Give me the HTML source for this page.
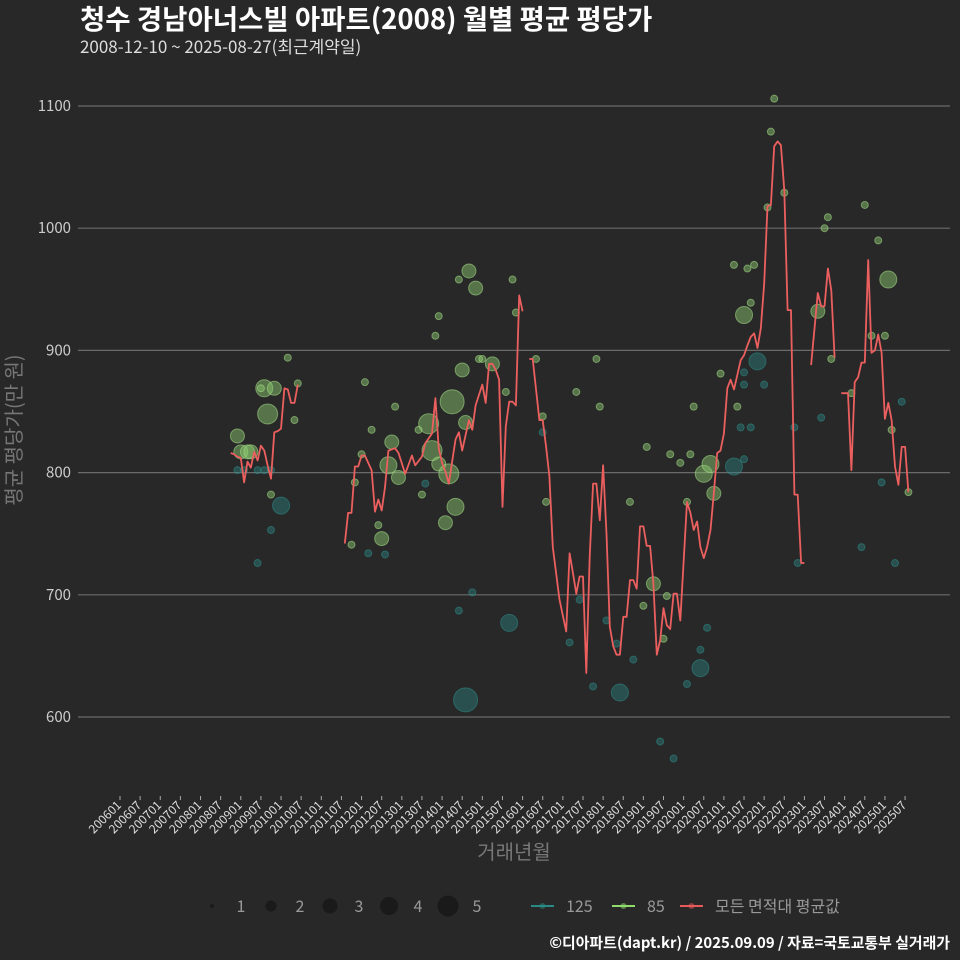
<!DOCTYPE html>
<html><head><meta charset="utf-8">
<style>
html,body{margin:0;padding:0;background:#282828;}
svg{display:block;font-family:"Noto Sans CJK KR","Liberation Sans",sans-serif;}
</style></head>
<body>
<svg id="chart" width="960" height="960" viewBox="0 0 960 960">
<rect x="0" y="0" width="960" height="960" fill="#282828"/>
<text x="80" y="29" fill="#ffffff" font-size="27.5" font-weight="bold">청수 경남아너스빌 아파트(2008) 월별 평균 평당가</text>
<text x="80" y="53" fill="#dddddd" font-size="17">2008-12-10 ~ 2025-08-27(최근계약일)</text>
<g id="grid"></g>
<g id="yticks"></g>
<g id="xticks"></g>
<g id="bubbles125"></g>
<g id="bubbles85"></g>
<g id="avgline"></g>
<text x="0" y="0" transform="translate(21,430) rotate(-90)" text-anchor="middle" fill="#777777" font-size="20">평균 평당가(만 원)</text>
<text x="514" y="859" text-anchor="middle" fill="#777777" font-size="20">거래년월</text>
<g id="legend"></g>
<text x="950" y="948" text-anchor="end" fill="#ffffff" font-size="14.9" font-weight="bold">©디아파트(dapt.kr) / 2025.09.09 / 자료=국토교통부 실거래가</text>
</svg>
<script>
// months are indices since 2006-01 (0 = 200601)
const yTicks = [600, 700, 800, 900, 1000, 1100];
const xTickLabels = ["200601","200607","200701","200707","200801","200807","200901","200907","201001","201007","201101","201107","201201","201207","201301","201307","201401","201407","201501","201507","201601","201607","201701","201707","201801","201807","201901","201907","202001","202007","202101","202107","202201","202207","202301","202307","202401","202407","202501","202507"];
const lineMonths = [33,34,35,36,37,38,39,40,41,42,43,44,45,46,47,48,49,50,51,52,53,null,
67,68,69,70,71,72,73,75,76,77,78,79,80,82,83,85,87,88,90,91,93,94,95,96,97,98,100,101,102,104,105,106,108,109,110,111,112,113,114,115,116,117,118,119,120,null,
122,123,125,126,127,128,129,131,133,134,135,136,137,138,139,140,141,142,143,144,145,146,147,148,149,150,151,152,153,154,155,156,157,158,159,160,161,162,163,164,165,166,167,169,170,171,172,173,174,175,176,177,178,179,180,181,182,183,185,186,187,188,189,190,191,192,193,194,195,196,197,198,199,200,201,202,203,204,null,
206,208,209,210,211,212,213,null,
215,217,218,219,220,221,222,223,224,225,226,227,228,229,230,231,232,233,234,235];
const lineValues = [816,815,813,812,792,809,804,817,810,822,818,806,795,833,834,836,869,868,857,857,872,null,
742,767,767,805,805,814,814,802,768,778,769,788,818,820,816,799,814,806,813,824,832,861,820,808,801,791,827,833,818,843,835,855,872,857,889,889,884,876,772,838,858,858,855,945,932,null,
893,893,843,843,821,797,739,696,670,734,718,701,715,715,636,731,791,791,761,806,750,674,658,651,651,682,682,712,712,705,756,756,740,740,709,651,663,689,675,672,701,701,679,776,767,753,760,739,730,739,753,783,816,818,832,869,876,868,892,896,904,911,914,902,918,955,1018,1019,1067,1071,1068,1031,933,933,782,782,726,726,null,
888,947,936,936,967,949,894,null,
865,865,802,874,878,890,890,974,898,900,913,898,844,857,843,805,790,821,821,784];
const months125 = [35,37,41,43,45,48,45,41,74,79,91,101,103,105,116,126,137,134,141,149,148,145,153,161,165,169,173,175,173,183,185,186,186,190,192,188,186,201,209,202,221,227,231,233];
const values125 = [802,802,802,802,802,773,753,726,734,733,791,687,614,702,677,833,696,661,625,620,660,679,647,580,566,627,640,673,655,805,837,882,872,891,872,837,811,837,845,726,739,792,726,858];
const counts125 = [1,1,1,1,1,3,1,1,1,1,1,1,5,1,3,1,1,1,1,3,1,1,1,1,1,1,3,1,1,3,1,1,1,3,1,1,1,1,1,1,1,1,1,1];
const months85 = [35,36,38,39,43,46,44,42,45,50,52,53,69,70,72,73,75,77,78,81,80,83,82,89,90,92,93,94,95,97,99,98,100,103,102,107,108,111,115,124,95,101,104,106,117,118,142,136,143,126,127,152,157,164,170,167,171,159,163,156,162,169,174,176,177,179,186,184,195,194,198,193,183,187,189,188,222,211,210,226,229,208,224,228,212,218,230,235];
const values85 = [830,817,817,817,869,869,848,869,782,894,843,873,741,792,815,874,835,757,746,825,806,796,854,835,782,840,818,912,807,759,858,799,772,841,884,893,893,889,866,893,928,958,965,951,958,931,893,866,854,846,776,776,821,815,815,808,854,709,699,691,664,776,799,807,783,881,929,854,1106,1079,1029,1017,970,967,970,939,1019,1009,1000,990,958,932,912,912,893,865,835,784];
const counts85 = [2,2,2,2,3,2,4,1,1,1,1,1,1,1,1,1,1,1,2,2,3,2,1,1,1,4,4,1,2,2,5,4,3,2,2,1,1,2,1,1,1,1,2,2,1,1,1,1,1,1,1,1,1,1,1,1,1,2,1,1,1,1,3,3,2,1,3,1,1,1,1,1,1,1,1,1,1,1,1,1,3,2,1,1,1,1,1,1];

const NS = "http://www.w3.org/2000/svg";
const X0 = 120, PXM = 3.355, Y0 = 717, PXV = 1.222;
function xScale(m){ return X0 + m * PXM; }
function yScale(v){ return Y0 - (v - 600) * PXV; }
function rScale(c){ return [0,3.5,7,8.5,10,12][c] || 3.5; }
function mk(tag, attrs, parent){ const e=document.createElementNS(NS,tag); for(const k in attrs) e.setAttribute(k,attrs[k]); parent.appendChild(e); return e; }

const grid = document.getElementById('grid');
const yt = document.getElementById('yticks');
yTicks.forEach(v=>{
  const y = yScale(v);
  const gl = mk('line',{x1:78,x2:950,y1:y,y2:y,stroke:'#6a6a6a','stroke-width':1.2},grid);
  
  
  const t = mk('text',{x:71,y:y+5,'text-anchor':'end',fill:'#cccccc','font-size':15},yt);
  t.textContent = v;
  
  
});
const xt = document.getElementById('xticks');
xTickLabels.forEach((lab,i)=>{
  const x = xScale(i*6);
  const tk = mk('line',{x1:x,x2:x,y1:796,y2:800,stroke:'#aaaaaa','stroke-width':1},xt);
  
  
  const t = mk('text',{x:0,y:0,transform:`translate(${x+2},${806}) rotate(-45)`,'text-anchor':'end',fill:'#dddddd','font-size':12},xt);
  t.textContent = lab;
  
  
});

const b125 = document.getElementById('bubbles125');
months125.forEach((m,i)=>{
  const c = mk('circle',{cx:xScale(m),cy:yScale(values125[i]),r:rScale(counts125[i]),fill:'#2a8a86','fill-opacity':0.4,stroke:'#2f9e98','stroke-opacity':0.45,'stroke-width':1},b125);
  
  
});
const b85 = document.getElementById('bubbles85');
months85.forEach((m,i)=>{
  const c = mk('circle',{cx:xScale(m),cy:yScale(values85[i]),r:rScale(counts85[i]),fill:'#8fcf70','fill-opacity':0.45,stroke:'#a8e08a','stroke-opacity':0.55,'stroke-width':1},b85);
  
  
});

const al = document.getElementById('avgline');
let d = '', pen = false;
lineMonths.forEach((m,i)=>{
  const v = lineValues[i];
  if(m===null || v===null){ pen=false; return; }
  d += (pen?'L':'M') + xScale(m).toFixed(1) + ',' + yScale(v).toFixed(1);
  pen = true;
});
const path = mk('path',{d:d,fill:'none',stroke:'#ec5f5f','stroke-width':1.8,'stroke-linejoin':'round'},al);



const lg = document.getElementById('legend');
const sizeLabels = [1,2,3,4,5];
const sizeR = [2,5.5,7.5,9,10.5];
sizeLabels.forEach((s,i)=>{
  const cx = 212 + i*59;
  const c = mk('circle',{cx:cx,cy:906,r:sizeR[i],fill:'#1a1a1a'},lg);
  
  
  const t = mk('text',{x:cx+29,y:912,'text-anchor':'middle',fill:'#999999','font-size':16},lg);
  t.textContent = s;
  
  
});
const lineLeg = [["125",'#2a8a86',531],["85",'#8fdc6a',612],["모든 면적대 평균값",'#e85a5a',680]];
lineLeg.forEach(([lab,col,x])=>{
  const l = mk('line',{x1:x,x2:x+23,y1:906,y2:906,stroke:col,'stroke-width':2},lg);
  
  
  const c = mk('circle',{cx:x+11.5,cy:906,r:3,fill:col,'fill-opacity':0.5},lg);
  
  
  const t = mk('text',{x:x+35,y:912,fill:'#999999','font-size':16},lg);
  t.textContent = lab;
  
  
});
</script>
</body></html>
